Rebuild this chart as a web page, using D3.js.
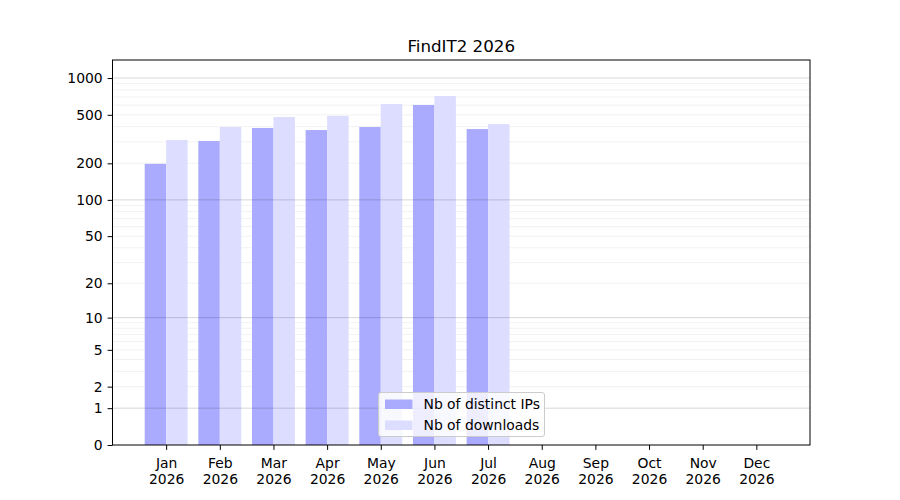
<!DOCTYPE html>
<html><head><meta charset="utf-8">
<script src="https://cdn.jsdelivr.net/npm/d3@7"></script>
<style>body{margin:0;background:#fff}svg{font-family:"DejaVu Sans",sans-serif}</style>
</head><body><svg id="c" width="900" height="500"></svg>
<script>
const months = ["Jan","Feb","Mar","Apr","May","Jun","Jul","Aug","Sep","Oct","Nov","Dec"];
const yearLabel = "2026";
const distinctIPs = [198, 305, 390, 375, 397, 602, 382, null, null, null, null, null];
const downloads   = [311, 397, 480, 490, 613, 713, 420, null, null, null, null, null];
const yTicks = [0, 1, 2, 5, 10, 20, 50, 100, 200, 500, 1000];
const majorGrid = [1, 10, 100, 1000];
const minorGrid = [2,3,4,5,6,7,8,9,20,30,40,50,60,70,80,90,200,300,400,500,600,700,800,900];
const title = "FindIT2 2026";
const seriesNames = ["Nb of distinct IPs", "Nb of downloads"];
const colors = ["#aaaaff", "#ddddff"];

const svg = d3.select("#c");
const L = 112.5, R = 810, T = 60, B = 445;
const x = d3.scaleLinear().domain([-1, 12]).range([L, R]);
const y = d3.scaleSymlog().constant(1).domain([0, 1405]).range([B, T]);
const bw = 0.4 * (x(1) - x(0));

svg.append("text").attr("x", (L + R) / 2).attr("y", 52).attr("text-anchor", "middle")
  .attr("font-size", 16.7).text(title);

const g = svg.append("g");
g.selectAll(".minor").data(minorGrid).join("line")
  .attr("x1", L).attr("x2", R).attr("y1", d => y(d)).attr("y2", d => y(d))
  .attr("stroke", "#000").attr("stroke-opacity", 0.07).attr("stroke-width", 0.8);

[distinctIPs, downloads].forEach((s, i) => {
  g.selectAll(".b" + i).data(s.map((v, k) => ({v, k})).filter(d => d.v != null)).join("rect")
    .attr("x", d => x(d.k) + (i === 0 ? -bw : 0))
    .attr("width", bw)
    .attr("y", d => y(d.v))
    .attr("height", d => y(0) - y(d.v))
    .attr("fill", colors[i]);
});

g.selectAll(".major").data(majorGrid).join("line")
  .attr("x1", L).attr("x2", R).attr("y1", d => y(d)).attr("y2", d => y(d))
  .attr("stroke", "#000").attr("stroke-opacity", 0.2).attr("stroke-width", 0.8);

svg.append("rect").attr("x", L).attr("y", T).attr("width", R - L).attr("height", B - T)
  .attr("fill", "none").attr("stroke", "#000").attr("stroke-width", 1);

const yAxis = svg.append("g").attr("transform", `translate(${L},0)`)
  .call(d3.axisLeft(y).tickValues(yTicks).tickFormat(d3.format("d")).tickSize(4.9).tickPadding(4.9));
yAxis.select(".domain").remove();
yAxis.selectAll("text").attr("font-size", 13.9).attr("font-family", "DejaVu Sans").attr("fill", "#000");
yAxis.selectAll("line").attr("stroke", "#000");

const xAxis = svg.append("g").attr("transform", `translate(0,${B})`)
  .call(d3.axisBottom(x).tickValues(d3.range(12)).tickFormat(() => "").tickSize(4.9));
xAxis.select(".domain").remove();
xAxis.selectAll("line").attr("stroke", "#000");
xAxis.selectAll(".tick").append("text")
  .attr("text-anchor", "middle").attr("font-size", 13.9).attr("font-family", "DejaVu Sans").attr("fill", "#000")
  .each(function(d) {
    const t = d3.select(this);
    t.append("tspan").attr("x", 0).attr("y", 23).text(months[d]);
    t.append("tspan").attr("x", 0).attr("y", 39).text(yearLabel);
  });

const lg = svg.append("g").attr("transform", "translate(378.5,392.5)");
lg.append("rect").attr("width", 166).attr("height", 44).attr("rx", 2.5)
  .attr("fill", "#fff").attr("fill-opacity", 0.8).attr("stroke", "#ccc").attr("stroke-width", 1);
seriesNames.forEach((n, i) => {
  lg.append("rect").attr("x", 6.5).attr("y", 7 + i * 21).attr("width", 27.5).attr("height", 9.5).attr("fill", colors[i]);
  lg.append("text").attr("x", 45).attr("y", 16.5 + i * 21).attr("font-size", 13.9).text(n);
});
</script></body></html>
